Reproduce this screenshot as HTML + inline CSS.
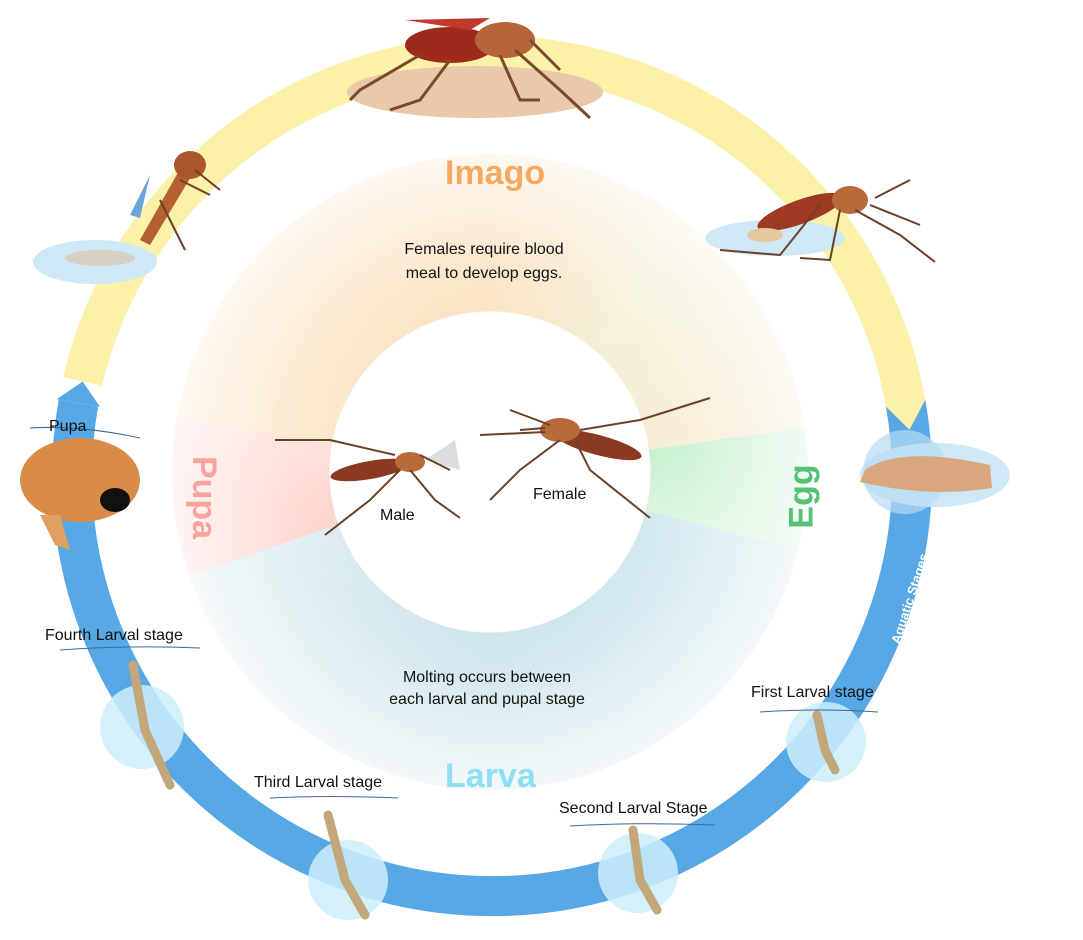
<!DOCTYPE html>
<html><head><meta charset="utf-8"><style>
html,body{margin:0;padding:0;background:#fff;}
body{width:1083px;height:940px;position:relative;overflow:hidden;font-family:"Liberation Sans",sans-serif;}
.donut{position:absolute;left:172px;top:154px;width:636px;height:636px;border-radius:50%;
background:conic-gradient(#fbe3c4 0deg,#f5f0d8 40deg,#f7edd5 82deg,#c8f0d0 82deg,#d8f5dc 104deg,#d3e9ef 104deg,#cfe5ec 180deg,#dcecf0 251deg,#fdd3cd 251deg,#fde0da 280deg,#fbe8cc 280deg,#fbe3c4 360deg);
-webkit-mask:radial-gradient(circle,transparent 160px,#000 161px);mask:radial-gradient(circle,transparent 160px,#000 161px);}
.fade{position:absolute;left:172px;top:154px;width:636px;height:636px;border-radius:50%;
background:radial-gradient(circle,rgba(255,255,255,0) 160px,rgba(255,255,255,0.1) 200px,rgba(255,255,255,0.75) 318px);}
.t{position:absolute;font-size:16px;color:#111;white-space:nowrap;text-align:center;}
.big{position:absolute;font-weight:bold;font-size:34px;white-space:nowrap;}
</style></head><body>
<div class="donut"></div><div class="fade"></div>
<svg width="1083" height="940" style="position:absolute;left:0;top:0">
<path d="M 905.6 403.1 A 420 420 0 1 1 78.4 403.1" fill="none" stroke="#58a8e6" stroke-width="40"/>
<polygon points="100,406.9 56.7,399.3 82.7,381.5" fill="#58a8e6"/>
<path d="M 82.7 381.5 A 420 420 0 0 1 905.6 403.1" fill="none" stroke="#fbf1a8" stroke-width="40"/>
<polygon points="885.9,406.6 925.3,399.6 909.5,429.9" fill="#fbf1a8"/>
<text x="0" y="0" transform="translate(914,600) rotate(-72)" fill="#fff" font-size="13" font-weight="bold" font-family="Liberation Sans" text-anchor="middle">Aquatic Stages</text>
<!-- top mosquito -->
<ellipse cx="475" cy="92" rx="128" ry="26" fill="#e9c9a9"/>
<ellipse cx="450" cy="45" rx="45" ry="18" fill="#9e2a1c"/>
<ellipse cx="505" cy="40" rx="30" ry="18" fill="#b8643a"/>
<path d="M405 20 L490 18 L470 30Z" fill="#c0392b"/>
<g stroke="#7a4a2a" stroke-width="3" fill="none"><path d="M420 55 L360 90 L350 100"/><path d="M450 60 L420 100 L390 110"/><path d="M500 55 L520 100 L540 100"/><path d="M515 50 L560 90 L590 118"/><path d="M530 40 L560 70"/></g>
<!-- right top mosquito -->
<ellipse cx="775" cy="238" rx="70" ry="18" fill="#cfe8f5"/>
<ellipse cx="800" cy="212" rx="45" ry="12" fill="#9e3a22" transform="rotate(-20 800 212)"/>
<ellipse cx="850" cy="200" rx="18" ry="14" fill="#b86a3a"/>
<ellipse cx="765" cy="235" rx="18" ry="7" fill="#e6c8a0"/>
<g stroke="#6a4028" stroke-width="2" fill="none"><path d="M820 205 L780 255 L720 250"/><path d="M840 210 L830 260 L800 258"/><path d="M855 210 L900 235 L935 262"/><path d="M870 205 L920 225"/><path d="M875 198 L910 180"/></g>
<!-- left top mosquito -->
<ellipse cx="95" cy="262" rx="62" ry="22" fill="#cfe8f5"/>
<path d="M185 160 L140 240 L150 245 L195 170Z" fill="#b5602e"/>
<ellipse cx="190" cy="165" rx="16" ry="14" fill="#a8562a"/>
<path d="M150 175 L130 215 L140 218Z" fill="#6aa7d9"/>
<ellipse cx="100" cy="258" rx="35" ry="8" fill="#d8d0c0"/>
<g stroke="#6a4028" stroke-width="2" fill="none"><path d="M195 170 L220 190"/><path d="M180 180 L210 195"/><path d="M160 200 L185 250"/></g>
<!-- egg -->
<ellipse cx="935" cy="475" rx="75" ry="32" fill="#cfe8f5"/>
<circle cx="905" cy="472" r="42" fill="#b7dcf3" opacity="0.7"/>
<path d="M865 470 Q900 445 990 465 L992 488 Q930 498 860 482Z" fill="#d9a77d"/>
<!-- center mosquitoes -->
<ellipse cx="598" cy="445" rx="45" ry="10" fill="#8a3a20" transform="rotate(15 598 445)"/>
<ellipse cx="560" cy="430" rx="20" ry="12" fill="#b86a3a"/>
<g stroke="#6a4028" stroke-width="2" fill="none"><path d="M560 440 L520 470 L490 500"/><path d="M575 440 L590 470 L650 518"/><path d="M580 430 L640 420 L710 398"/><path d="M550 425 L510 410"/><path d="M545 432 L480 435"/><path d="M545 428 L520 430"/></g>
<ellipse cx="370" cy="470" rx="40" ry="9" fill="#8a3a20" transform="rotate(-10 370 470)"/>
<ellipse cx="410" cy="462" rx="15" ry="10" fill="#b86a3a"/>
<path d="M425 460 L455 440 L460 470Z" fill="#ddd"/>
<g stroke="#6a4028" stroke-width="2" fill="none"><path d="M400 470 L370 500 L325 535"/><path d="M410 470 L435 500 L460 518"/><path d="M395 455 L330 440 L275 440"/><path d="M420 455 L450 470"/></g>
<!-- pupa -->
<path d="M30 428 Q80 425 140 438" stroke="#3a6a9a" fill="none"/>
<ellipse cx="80" cy="480" rx="60" ry="42" fill="#d98c48"/>
<ellipse cx="115" cy="500" rx="15" ry="12" fill="#111"/>
<path d="M40 515 L55 545 L70 550 L60 515Z" fill="#e0a060"/>
<!-- larvae -->
<g fill="#cdeefa" opacity="0.85"><circle cx="142" cy="727" r="42"/><circle cx="348" cy="880" r="40"/><circle cx="638" cy="873" r="40"/><circle cx="826" cy="742" r="40"/></g>
<g stroke="#c2a77a" stroke-width="9" stroke-linecap="round" fill="none">
<path d="M133 665 L145 730 L170 785"/><path d="M328 815 L345 880 L365 915"/><path d="M633 830 L640 880 L657 910"/><path d="M817 715 L825 750 L835 770"/></g>
<g stroke="#3a6a9a" stroke-width="1" fill="none"><path d="M60 650 Q130 645 200 648"/><path d="M270 798 Q330 795 398 798"/><path d="M570 826 Q640 822 715 825"/><path d="M760 712 Q820 708 878 712"/></g>
</svg>
<div class="big" style="left:445px;top:154px;color:#f5a860;">Imago</div>
<div class="big" style="left:445px;top:757px;color:#8ce0f2;">Larva</div>
<div class="big" style="left:162px;top:478px;color:#f8a49c;transform:rotate(90deg);">Pupa</div>
<div class="big" style="left:770px;top:477px;color:#55c275;transform:rotate(-90deg);">Egg</div>
<div class="t" style="left:384px;top:238px;width:200px;line-height:24px;">Females require blood<br>meal to develop eggs.</div>
<div class="t" style="left:357px;top:667px;width:260px;line-height:22px;">Molting occurs between<br>each larval and pupal stage</div>
<div class="t" style="left:380px;top:507px;">Male</div>
<div class="t" style="left:533px;top:486px;">Female</div>
<div class="t" style="left:49px;top:418px;">Pupa</div>
<div class="t" style="left:45px;top:627px;">Fourth Larval stage</div>
<div class="t" style="left:254px;top:774px;">Third Larval stage</div>
<div class="t" style="left:559px;top:800px;">Second Larval Stage</div>
<div class="t" style="left:751px;top:684px;">First Larval stage</div>
</body></html>
